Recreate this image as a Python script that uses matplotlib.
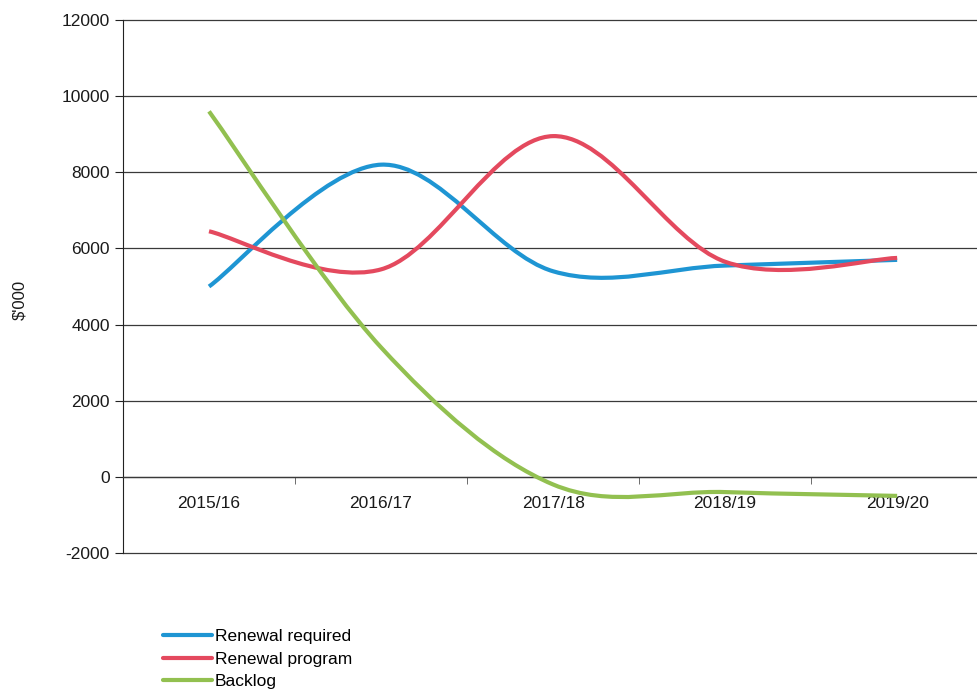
import matplotlib
matplotlib.use('Agg')
import matplotlib.pyplot as plt
from matplotlib.path import Path
from matplotlib.patches import PathPatch
from matplotlib.lines import Line2D
from matplotlib import font_manager

# data ($'000)
years = ['2015/16', '2016/17', '2017/18', '2018/19', '2019/20']
renewal_required = [5000, 8200, 5400, 5550, 5700]
renewal_program = [6450, 5450, 8950, 5650, 5750]
backlog = [9600, 3400, -200, -400, -500]

names = [f.name for f in font_manager.fontManager.ttflist]
if 'Liberation Sans Narrow' in names:
    plt.rcParams['font.family'] = ['Liberation Sans Narrow', 'DejaVu Sans']
else:
    plt.rcParams['font.family'] = ['Liberation Sans', 'DejaVu Sans']
plt.rcParams['axes.unicode_minus'] = False


def smooth_path(xs, ys):
    # excel-style smoothed line: cubic bezier through the points
    n = len(xs)
    verts = [(xs[0], ys[0])]
    codes = [Path.MOVETO]
    for i in range(n - 1):
        a = i - 1 if i > 0 else i
        d = i + 2 if i + 2 < n else i + 1
        c1 = (xs[i] + (xs[i + 1] - xs[a]) / 6, ys[i] + (ys[i + 1] - ys[a]) / 6)
        c2 = (xs[i + 1] - (xs[d] - xs[i]) / 6, ys[i + 1] - (ys[d] - ys[i]) / 6)
        verts += [c1, c2, (xs[i + 1], ys[i + 1])]
        codes += [Path.CURVE4] * 3
    return Path(verts, codes)


fig = plt.figure(figsize=(9.78, 6.9), dpi=100)
ax = fig.add_axes((123 / 978, 1 - 553 / 690, 1 - 123 / 978, (553 - 20) / 690))

series = [
    ('Renewal required', renewal_required, '#1e95d3'),
    ('Renewal program', renewal_program, '#e4495e'),
    ('Backlog', backlog, '#92c050'),
]

xs = list(range(len(years)))
handles = []
for label, vals, c in series:
    ax.add_patch(PathPatch(smooth_path(xs, vals), facecolor='none', edgecolor=c,
                           lw=3, capstyle='butt', zorder=3))
    handles.append(Line2D([], [], color=c, lw=3, solid_capstyle='round', label=label))

ax.set_xlim(-0.5, 4.47)
ax.set_ylim(-2000, 12000)
ax.set_yticks(range(-2000, 12001, 2000))
ax.yaxis.grid(True, color='#3a3a3a', lw=0.9)
for gl in ax.get_ygridlines():
    gl.set_clip_on(False)
ax.set_axisbelow(True)

for s in ['top', 'right']:
    ax.spines[s].set_visible(False)
ax.spines['left'].set_color('#222222')
ax.spines['bottom'].set_position(('data', 0))
ax.spines['bottom'].set_color('#3a3a3a')
ax.spines['bottom'].set_linewidth(0.9)

ax.set_xticks(xs)
ax.set_xticklabels(years)
ax.set_xticks([0.5, 1.5, 2.5, 3.5], minor=True)
ax.tick_params(axis='x', which='major', length=0, pad=14, labelsize=12.5, labelcolor='#1a1a1a')
ax.tick_params(axis='x', which='minor', length=5, direction='out', color='#555555')
ax.tick_params(axis='y', length=6, labelsize=12.5, labelcolor='#1a1a1a', color='#222222')

fig.text(20 / 978, 1 - 300 / 690, "$'000", rotation=90, ha='center', va='center',
         fontsize=12, color='#1a1a1a')

fig.legend(handles=handles, loc='upper left', bbox_to_anchor=(163 / 978, 1 - 629 / 690),
           frameon=False, fontsize=12.5, handlelength=2.8, handletextpad=0.2,
           labelspacing=0.42, borderpad=0, borderaxespad=0)

fig.savefig('out.png', dpi=100)
